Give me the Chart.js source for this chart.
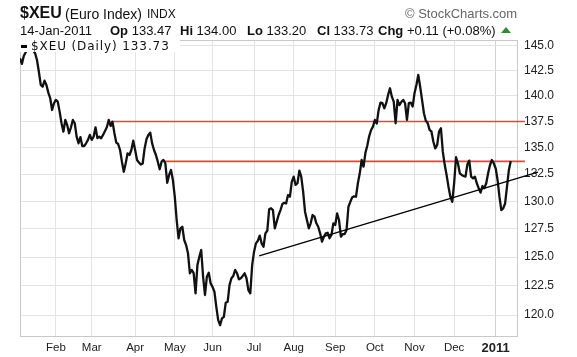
<!DOCTYPE html>
<html><head><meta charset="utf-8">
<script src="https://cdn.jsdelivr.net/npm/chart.js@4.4.0/dist/chart.umd.min.js"></script>
<style>
html,body{margin:0;padding:0;background:#fff;}
#wrap{position:relative;width:577px;height:357px;overflow:hidden;font-family:"Liberation Sans",Arial,sans-serif;color:#111;}
canvas{position:absolute;left:0;top:0;}
.t{position:absolute;white-space:nowrap;line-height:1;}
.b{font-weight:bold;}
</style></head><body>
<div id="wrap">
<canvas id="c" width="577" height="357" style="width:577px;height:357px"></canvas>
<div class="t b" style="left:20px;top:5px;font-size:16px;">$XEU</div>
<div class="t" style="left:65px;top:6.5px;font-size:14px;">(Euro Index)</div>
<div class="t" style="left:147px;top:8px;font-size:12px;">INDX</div>
<div class="t" style="left:405px;top:6.5px;font-size:13px;color:#666;">© StockCharts.com</div>
<div class="t" style="left:20px;top:23.5px;font-size:13px;">14-Jan-2011</div>
<div class="t" style="left:110px;top:23.5px;font-size:13px;"><span class="b">Op</span> 133.47</div>
<div class="t" style="left:180px;top:23.5px;font-size:13px;"><span class="b">Hi</span> 134.00</div>
<div class="t" style="left:247px;top:23.5px;font-size:13px;"><span class="b">Lo</span> 133.20</div>
<div class="t" style="left:317px;top:23.5px;font-size:13px;"><span class="b">Cl</span> 133.73</div>
<div class="t" style="left:378px;top:23.5px;font-size:13px;"><span class="b">Chg</span> +0.11 (+0.08%)</div>
<div class="t" style="left:501px;top:27px;width:0;height:0;border-left:5px solid transparent;border-right:5px solid transparent;border-bottom:6px solid #2e8b2e;"></div>
<div class="t" style="left:20px;top:40px;height:12px;width:160px;background:#fff;font-family:'DejaVu Sans',sans-serif;font-size:12px;letter-spacing:0.9px;line-height:12px;"><span style="display:inline-block;width:6px;height:3px;background:#000;vertical-align:middle;margin:0 4px 0 1px;"></span>$XEU (Daily) 133.73</div>
</div>
<script>
// trading-day index (0 = 4 Jan 2010) and daily close of $XEU
const days = [
 0,1,2,5,8,9,10,11,12,13,
 14,15,16,17,18,19,20,21,22,23,
 24,25,26,27,28,29,30,31,32,33,
 34,35,36,37,38,39,40,41,42,43,
 44,46,47,48,49,50,51,52,53,54,
 55,56,57,58,59,60,61,62,63,64,
 65,66,67,68,69,70,71,72,73,74,
 75,76,77,78,79,80,81,82,83,84,
 85,86,87,88,89,90,91,92,93,94,
 95,96,97,98,99,100,101,102,103,104,
 105,106,107,108,109,110,111,112,113,114,
 115,116,117,118,119,120,121,122,123,124,
 125,126,127,128,129,130,131,132,133,134,
 135,137,138,139,140,141,142,143,144,145,
 146,147,148,149,150,151,152,153,154,155,
 156,157,158,159,160,161,162,163,164,165,
 166,167,168,169,170,171,172,173,174,175,
 176,177,178,179,180,181,182,183,184,185,
 186,187,188,189,190,191,192,193,194,195,
 196,197,198,199,200,201,202,203,204,205,
 206,207,208,209,210,211,212,213,214,215,
 216,217,218,219,220,221,222,223,224,225,
 226,227,228,229,230,231,232,233,234,235,
 236,237,238,239,240,241,242,243,244,245,
 246,247,248,249,250,251,252,253,254,255,
 256,257,258,259,260
];
const closes = [
 143.75,143.18,143.99,145.1,144.26,143.58,142.40,141.08,140.91,141.51,
 141.08,140.32,139.77,138.62,139.28,139.60,139.43,138.46,137.33,136.52,
 137.65,137.16,136.37,136.94,137.65,137.33,136.04,135.41,136.0,135.15,
 135.15,135.41,135.73,136.21,135.73,136.04,136.94,135.9,136.04,135.89,
 136.21,136.94,137.65,137.07,137.48,136.4,135.47,135.34,134.77,133.67,
 132.73,133.52,134.46,134.3,134.77,135.66,134.77,133.83,133.6,133.4,
 133.5,134.9,135.8,136.2,136.43,135.4,134.77,134.30,133.67,132.96,
 133.67,133.83,133.52,131.7,132.43,132.89,131.96,130.42,128.30,126.66,
 127.55,127.69,126.51,126.06,125.33,123.58,123.87,123.6,121.85,124.3,
 125.03,125.62,123.28,121.71,123.28,123.63,122.71,122.41,121.99,120.70,
 119.57,119.15,119.72,119.86,121.05,121.13,122.56,123.15,123.35,123.87,
 123.58,123.06,123.15,123.35,123.58,123.15,122.13,121.85,124.3,125.47,
 126.21,126.44,126.9,126.21,125.91,127.1,127.33,129.27,129.36,129.2,
 127.55,128.75,129.2,129.75,129.86,129.81,130.57,130.42,131.81,132.27,
 131.5,131.66,132.83,132.27,130.88,129.05,128.3,127.55,128.0,128.75,
 128.6,128.0,127.69,127.1,126.36,126.8,127.1,127.15,126.66,126.95,
 128.0,127.85,128.9,128.3,126.8,127.04,127.04,127.4,129.5,129.95,
 130.36,130.45,130.42,131.66,132.58,133.83,133.2,134.5,135.2,136.1,
 136.68,137.0,137.65,137.3,138.62,139.34,139.28,138.79,139.28,140.09,
 140.75,139.92,139.43,137.33,139.6,139.1,139.4,139.6,139.28,137.65,
 139.28,139.34,138.95,140.25,141.08,142.07,140.9,139.6,138.30,137.58,
 137.33,136.69,136.52,135.56,134.93,135.25,136.52,136.85,134.61,133.4,
 132.43,131.34,130.42,129.95,131.66,134.09,133.52,132.58,132.43,132.33,
 132.27,133.4,133.77,132.27,132.12,132.27,131.66,131.2,130.79,131.4,
 131.2,131.66,132.58,133.36,133.83,133.52,133.05,131.96,130.42,129.2,
 129.36,129.8,131.34,132.9,133.73
];
// month tick positions (first trading day of each month) and labels
const monthDays = [19,38,61,82,102,124,145,167,188,209,230,252];
const monthLabels = ['Feb','Mar','Apr','May','Jun','Jul','Aug','Sep','Oct','Nov','Dec','2011'];
// price ticks
const priceTicks = [120,122.5,125,127.5,130,132.5,135,137.5,140,142.5,145];
// drawn resistance levels: value, start day, end day
const resistLevels = [137.5, 133.7];
const resistStart = [48, 76.3];
const resistEnd = 267.5;
// drawn trend line (support)
const trendDays = [126.7, 274.4];
const trendValues = [125.1, 132.7];

const xMin = 0, xMax = 263.3, yMin = 118.25, yMax = 145.61;

const linePts = days.map((d,i)=>({x:d, y:closes[i]}));
const redSets = resistLevels.map((v,i)=>({
  data:[{x:resistStart[i],y:v},{x:resistEnd,y:v}],
  borderColor:'#f0432a', borderWidth:1.6, pointRadius:0, clip:false, order:2
}));

const frame = {
  id:'frame',
  beforeDatasetsDraw(chart){
    const a = chart.chartArea, c = chart.ctx;
    c.save(); c.strokeStyle='#c9c9c9'; c.lineWidth=1;
    c.strokeRect(a.left+0.5, a.top+0.5, a.right-a.left, a.bottom-a.top);
    c.restore();
  }
};

new Chart(document.getElementById('c'), {
  type:'line',
  data:{datasets:[
    {data:linePts, borderColor:'#111', borderWidth:2.3, pointRadius:0, tension:0, borderJoinStyle:'round', order:1},
    ...redSets,
    {data:trendDays.map((d,i)=>({x:d,y:trendValues[i]})), borderColor:'#000', borderWidth:1.3, pointRadius:0, clip:false, order:0}
  ]},
  options:{
    responsive:false, animation:false, devicePixelRatio:1,
    layout:{padding:{left:20, top:40, right:0, bottom:0}},
    plugins:{legend:{display:false}, tooltip:{enabled:false}},
    scales:{
      x:{type:'linear', min:xMin, max:xMax,
        afterBuildTicks(s){ s.ticks = monthDays.map(v=>({value:v})); },
        afterFit(s){ s.height = 21; },
        grid:{color:(ctx)=> (ctx.tick && ctx.tick.value===252) ? '#d2d2d2' : '#e3e3e3', drawTicks:false},
        border:{display:false},
        ticks:{padding:5, color:'#222', autoSkip:false, maxRotation:0,
          font:(ctx)=>({family:'"Liberation Sans", Arial, sans-serif', size:(ctx.tick && ctx.tick.value===252)?13:11.5, weight:(ctx.tick && ctx.tick.value===252)?'bold':'normal'}),
          callback:(v)=> monthLabels[monthDays.indexOf(v)] }
      },
      y:{type:'logarithmic', position:'right', min:yMin, max:yMax,
        afterBuildTicks(s){ s.ticks = priceTicks.map(v=>({value:v})); },
        afterFit(s){ s.width = 60; },
        grid:{color:'#e3e3e3', drawTicks:false},
        border:{display:false},
        ticks:{padding:7, color:'#222', font:{family:'"Liberation Sans", Arial, sans-serif', size:12},
          callback:(v)=> Number(v).toFixed(1)}
      }
    }
  },
  plugins:[frame]
});
</script>
</body></html>
